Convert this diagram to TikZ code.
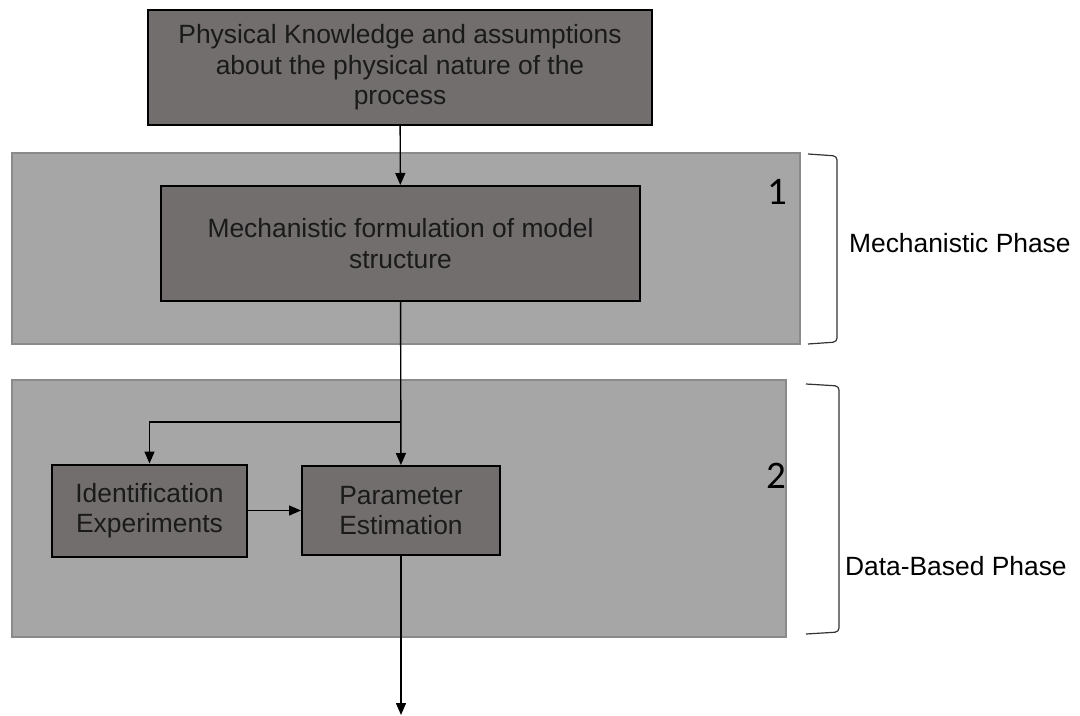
\documentclass[tikz,border=0pt]{standalone}
\usepackage{fontspec}
\setmainfont{Liberation Sans}
\newfontfamily\numfont{Carlito}
\usepackage{tikz}
\usetikzlibrary{arrows.meta,positioning}
\definecolor{panelgray}{HTML}{A6A6A6}
\definecolor{paneledge}{HTML}{8A8A8A}
\definecolor{boxgray}{HTML}{726E6D}
\definecolor{inktext}{HTML}{1A1A1A}

\begin{document}
\begin{tikzpicture}[x=0.5pt,y=-0.5pt,>={Triangle[length=6pt,width=5pt]},
	panel/.style={draw=paneledge,fill=panelgray,line width=0.9pt,inner sep=0pt},
	stagebox/.style={draw=black,fill=boxgray,line width=1pt,text=inktext,align=center,
		font=\fontsize{13.2}{15.2}\selectfont,inner sep=2pt},
	phaselabel/.style={anchor=west,font=\fontsize{13.2}{15}\selectfont},
	phasenum/.style={font=\numfont\fontsize{19.5}{20}\selectfont},
	brace/.style={draw=black!80,line width=0.6pt,rounded corners=2pt},
	flow/.style={draw=black,line width=0.7pt}]
	\useasboundingbox (0,0) rectangle (1080,716);

	\node (mechpanel) at (406,248.5) [panel, minimum width=394pt, minimum height=95.5pt] {};
	\node (datapanel) at (399,508.5) [panel, minimum width=387pt, minimum height=128.5pt] {};

	\node (know) at (400,67.5) [stagebox, minimum width=252pt, minimum height=57.5pt]
		{Physical Knowledge and assumptions\\about the physical nature of the\\process};
	\node (mech) at (400.5,243.5) [stagebox, minimum width=239.5pt, minimum height=57.5pt]
		{Mechanistic formulation of model\\structure};
	\node (ident) at (149.5,510.5) [stagebox, minimum width=97.5pt, minimum height=46pt]
		{Identification\\Experiments};
	\node (param) at (401,510.5) [stagebox, minimum width=99pt, minimum height=44.5pt]
		{Parameter\\Estimation};

	\node (num1) at (777,192) [phasenum] {1};
	\node (num2) at (776,476) [phasenum] {2};

	\node (mechlabel) at (842,243) [phaselabel] {Mechanistic Phase};
	\node (datalabel) at (838,566) [phaselabel] {Data-Based Phase};

	\coordinate (split) at (400.5,422);
	\coordinate (out) at (401,715);

	\draw [flow,->] (know) -- (mech);
	\draw [flow,->] (mech) -- (param);
	\draw [flow,->] (split) -| (ident);
	\draw [flow,->] (ident) -- (param);
	\draw [flow,->] (param) -- (out);

	\draw [brace] (808,154) -- (837,156) -- (837,342) -- (808,344);
	\draw [brace] (806,384) -- (839,386) -- (839,632) -- (806,634);
\end{tikzpicture}
\end{document}
